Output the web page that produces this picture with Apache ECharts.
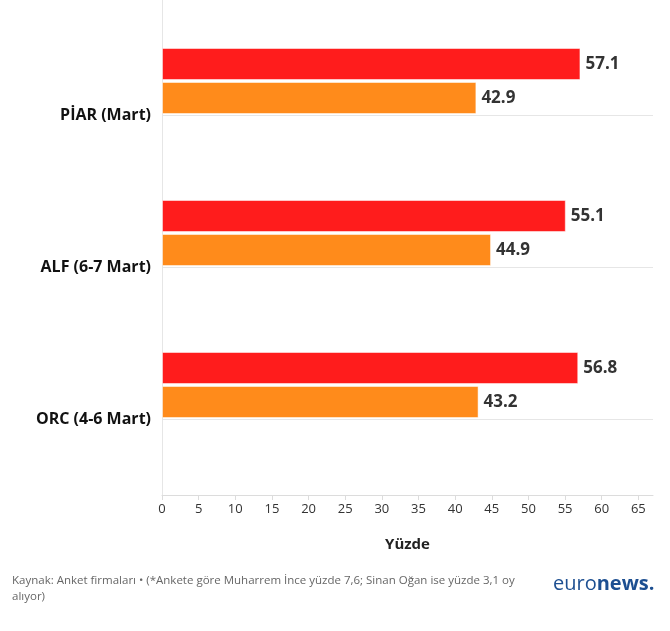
<!DOCTYPE html>
<html><head><meta charset="utf-8">
<script src="https://cdn.jsdelivr.net/npm/echarts@6/dist/echarts.min.js"></script>
<style>html,body{margin:0;padding:0;background:#fff}#c{width:670px;height:631px}</style>
</head><body><div id="c"></div>
<script>
const categories = ['PİAR (Mart)', 'ALF (6-7 Mart)', 'ORC (4-6 Mart)'];
const seriesA = [57.1, 55.1, 56.8];
const seriesB = [42.9, 44.9, 43.2];
const xTicks = [0,5,10,15,20,25,30,35,40,45,50,55,60,65];
const axisTitle = 'Yüzde';
const sourceText = 'Kaynak: Anket firmaları • (*Ankete göre Muharrem İnce yüzde 7,6; Sinan Oğan ise yüzde 3,1 oy\nalıyor)';

const chart = echarts.init(document.getElementById('c'));
const F = '"Open Sans", sans-serif';
const lbl = {show:true, position:'right', distance:5, color:'#333', fontWeight:'bold', fontSize:17, fontFamily:F};
chart.setOption({
  animation:false,
  grid:{left:162, right:17, top:39, bottom:136},
  xAxis:{type:'value', min:0, max:67,
    name:axisTitle, nameLocation:'middle', nameGap:42,
    nameTextStyle:{fontFamily:F, fontWeight:'bold', fontSize:15, color:'#222'},
    axisLine:{show:true, onZero:false, lineStyle:{color:'#dcdcdc'}},
    axisTick:{show:true, length:5, lineStyle:{color:'#dcdcdc'}, customValues:xTicks},
    axisLabel:{fontFamily:F, fontSize:13, color:'#333', margin:8, customValues:xTicks},
    splitLine:{show:false}},
  yAxis:[{type:'category', data:categories, inverse:true,
    axisLine:{show:true, onZero:false, lineStyle:{color:'#e6e6e6'}},
    axisTick:{show:false},
    axisLabel:{fontFamily:F, fontWeight:'bold', fontSize:16, color:'#111', margin:11},
    splitLine:{show:false}},
   {type:'value', min:-0.5, max:2.5, inverse:true, position:'left',
    axisLine:{show:false, onZero:false}, axisLabel:{show:false},
    axisTick:{show:false, customValues:[0,1,2]},
    splitLine:{show:true, lineStyle:{color:'#e6e6e6'}}}],
  graphic:[
    {type:'line', shape:{x1:162.5,y1:0,x2:162.5,y2:39}, style:{stroke:'#e6e6e6', lineWidth:1}},
    {type:'text', left:12, top:573, style:{text:sourceText, fontFamily:F, fontSize:11.5, fill:'#666', lineHeight:16}},
    {type:'text', left:553, top:574, style:{text:'{a|euro}{b|news.}', rich:{
      a:{fontFamily:F, fontSize:20, fill:'#1d4f91', fontWeight:'normal'},
      b:{fontFamily:F, fontSize:20, fill:'#1d4f91', fontWeight:'bold'}}}}
  ],
  series:[
    {type:'bar', data:seriesA, barWidth:32, barGap:'6.25%', barCategoryGap:18,
      itemStyle:{color:'#ff1c1c', borderColor:'rgba(255,255,255,0.5)', borderWidth:1}, label:lbl},
    {type:'bar', data:seriesB, barWidth:32, barGap:'6.25%',
      itemStyle:{color:'#ff8b1b', borderColor:'rgba(255,255,255,0.5)', borderWidth:1}, label:lbl},
    {type:'bar', data:[null,null,null], barWidth:32, barGap:'6.25%'},
    {type:'bar', data:[null,null,null], barWidth:32, barGap:'6.25%'}
  ]
});
</script></body></html>
